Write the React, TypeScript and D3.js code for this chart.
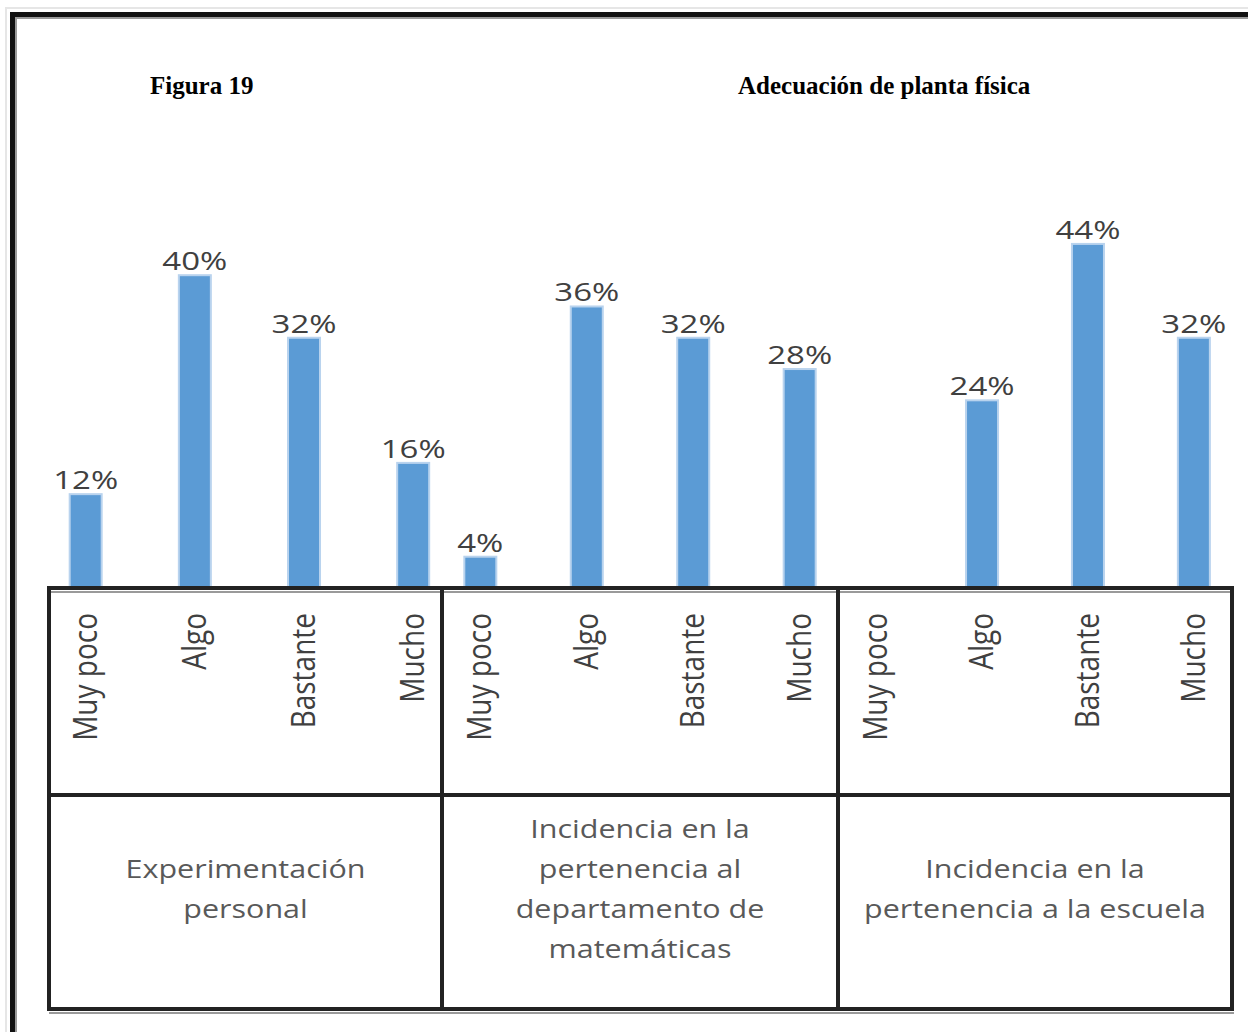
import React from "react";
import * as d3 from "d3";

const categories = ["Muy poco", "Algo", "Bastante", "Mucho"];
const groups = [
  "Experimentación personal",
  "Incidencia en la pertenencia al departamento de matemáticas",
  "Incidencia en la pertenencia a la escuela",
];
const groupLines = [
  ["Experimentación", "personal"],
  ["Incidencia en la", "pertenencia al", "departamento de", "matemáticas"],
  ["Incidencia en la", "pertenencia a la escuela"],
];
const valuesExperimentacion = [12, 40, 32, 16];
const valuesDepartamento = [4, 36, 32, 28];
const valuesEscuela = [0, 24, 44, 32];
const seriesValues = [valuesExperimentacion, valuesDepartamento, valuesEscuela];
const figureLabel = "Figura 19";
const figureTitle = "Adecuación de planta física";

const W = 1248;
const H = 1032;
const tableLeft = 49;
const tableRight = 1232;
const tableTop = 588;
const tableMid = 795;
const tableBottom = 1009;
const groupEdges = [49, 442, 838, 1232];
const groupPadding = [0.3, 0.36, 0.36];
const groupAlign = [0.56, 0.5, 0.5];
const barWidth = 32;
const barColor = "#5B9BD5";
const textColor = "#595959";
const calibri = "'Open Sans', 'Noto Sans', sans-serif";

export default function App() {
  const y = d3.scaleLinear().domain([0, 50]).range([tableTop, tableTop - 391]);

  const xScales = groups.map((g, i) =>
    d3
      .scalePoint<string>()
      .domain(categories)
      .range([groupEdges[i], groupEdges[i + 1]])
      .padding(groupPadding[i])
      .align(groupAlign[i])
  );

  return (
    <svg
      width={W}
      height={H}
      viewBox={`0 0 ${W} ${H}`}
      style={{ position: "absolute", left: 0, top: 0, background: "#fff" }}
    >
      <rect x={0} y={0} width={W} height={H} fill="#fff" />
      {/* outer frame */}
      <rect x={6} y={8} width={3000} height={3000} fill="none" stroke="#e6e6e6" strokeWidth={2} />
      <rect x={16} y={18} width={3000} height={3000} fill="none" stroke="#9a9a9a" strokeWidth={2} />
      <rect x={12.5} y={14.5} width={3000} height={3000} fill="none" stroke="#111" strokeWidth={5} />

      {/* titles */}
      <text x={150} y={94} fontFamily="'Liberation Serif', 'Times New Roman', serif" fontWeight="bold" fontSize={25} fill="#000">
        {figureLabel}
      </text>
      <text x={738} y={94} fontFamily="'Liberation Serif', 'Times New Roman', serif" fontWeight="bold" fontSize={25} fill="#000">
        {figureTitle}
      </text>

      {/* bars */}
      {seriesValues.map((vals, gi) =>
        vals.map((v, ci) => {
          const cx = xScales[gi](categories[ci]) as number;
          if (v <= 0) return null;
          const top = y(v);
          return (
            <g key={`b-${gi}-${ci}`}>
              <rect
                x={cx - barWidth / 2}
                y={top}
                width={barWidth}
                height={y(0) - top}
                fill={barColor}
                stroke="#b9d3ee"
                strokeWidth={2}
              />
              <text
                transform={`translate(${cx},${top - 5}) scale(1.32,1)`}
                textAnchor="middle"
                fontFamily={calibri}
                fontSize={25}
                fill="#404040"
              >
                {`${v}%`}
              </text>
            </g>
          );
        })
      )}

      {/* table */}
      <g fill="none" stroke="#9a9a9a" strokeWidth={2}>
        <line x1={tableLeft} x2={tableRight + 2} y1={tableTop + 4} y2={tableTop + 4} />
        <line x1={tableLeft} x2={tableRight + 2} y1={tableBottom + 4} y2={tableBottom + 4} />
      </g>
      <g fill="none" stroke="#222" strokeWidth={4}>
        <rect x={tableLeft} y={tableTop} width={tableRight - tableLeft} height={tableBottom - tableTop} />
        <line x1={tableLeft} x2={tableRight} y1={tableMid} y2={tableMid} />
        {groupEdges.slice(1, -1).map((gx) => (
          <line key={gx} x1={gx} x2={gx} y1={tableTop} y2={tableBottom} />
        ))}
      </g>

      {/* category labels (rotated) */}
      {groups.map((g, gi) =>
        categories.map((c) => {
          const cx = xScales[gi](c) as number;
          return (
            <text
              key={`c-${gi}-${c}`}
              transform={`translate(${cx + 11},${613}) scale(1.15,1) rotate(-90)`}
              textAnchor="end"
              fontFamily={calibri}
              fontSize={28}
              fill="#404040"
            >
              {c}
            </text>
          );
        })
      )}

      {/* group labels */}
      {groupLines.map((lines, gi) => {
        const cx = (groupEdges[gi] + groupEdges[gi + 1]) / 2;
        const n = lines.length;
        const cy = (tableMid + tableBottom) / 2;
        return (
          <g key={`g-${gi}`}>
            {lines.map((ln, li) => (
              <text
                key={li}
                transform={`translate(${cx},${cy + (li - (n - 1) / 2) * 40 - 4}) scale(1.22,1)`}
                textAnchor="middle"
                fontFamily={calibri}
                fontSize={25}
                fill={textColor}
              >
                {ln}
              </text>
            ))}
          </g>
        );
      })}
    </svg>
  );
}
